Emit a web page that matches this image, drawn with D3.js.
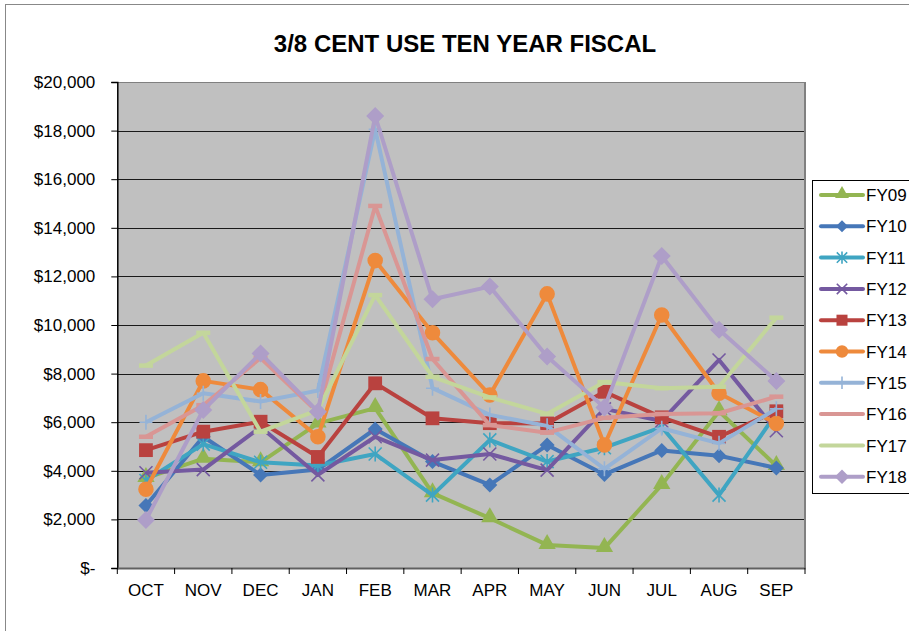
<!DOCTYPE html>
<html><head><meta charset="utf-8">
<script src="https://cdn.jsdelivr.net/npm/d3@7"></script>
<style>body{margin:0;background:#fff}svg{display:block}text{font-family:"Liberation Sans",Arial,sans-serif}</style>
</head><body><svg id="c" width="909" height="631"></svg>
<script>
const months = ["OCT","NOV","DEC","JAN","FEB","MAR","APR","MAY","JUN","JUL","AUG","SEP"];
const yTicks = [0,2000,4000,6000,8000,10000,12000,14000,16000,18000,20000];
const seriesNames = ["FY09","FY10","FY11","FY12","FY13","FY14","FY15","FY16","FY17","FY18"];
const FY09 = [3700,4500,4350,5950,6580,3080,2050,950,820,3420,6450,4200];
const FY10 = [2570,5400,3830,4050,5720,4380,3420,5060,3850,4840,4620,4120];
const FY11 = [3600,5100,4350,4220,4690,3000,5270,4380,4950,5800,3000,6350];
const FY12 = [3920,4050,5800,3830,5400,4440,4690,4030,6550,6050,8560,5650];
const FY13 = [4850,5610,6020,4570,7600,6160,5960,5950,7250,6200,5400,6450];
const FY14 = [3240,7700,7340,5400,12650,9680,7120,11280,5060,10410,7190,5950];
const FY15 = [6000,7190,6850,7300,18050,7400,6300,5850,4080,5750,5130,6550];
const FY16 = [5400,6700,8640,6400,14900,8600,5880,5570,6180,6340,6370,7050];
const FY17 = [8330,9680,5610,6500,11230,7870,7020,6340,7650,7400,7460,10300];
const FY18 = [1980,6500,8830,6430,18600,11060,11580,8700,6600,12840,9800,7700];
const seriesValues = [FY09,FY10,FY11,FY12,FY13,FY14,FY15,FY16,FY17,FY18];

const colors = ["#93B552","#4677B8","#3FA5C2","#7459A0","#B9423F","#EE8A3C","#95B3D7","#D99694","#C3D69B","#AE9EC8"];
const markers = ["triangle","diamond","asterisk","x","square","circle","plus","dash","dash","diamondL"];

const svg = d3.select("#c");
const L=117.3, R=805, T=82, B=568;
const x = d3.scaleBand().domain(months).range([L,R]).paddingInner(0).paddingOuter(0);
const cx = m => x(m)+x.bandwidth()/2;
const y = d3.scaleLinear().domain([0,20000]).range([B,T]);

// outer border
svg.append("rect").attr("x",5.5).attr("y",4.5).attr("width",1000).attr("height",700)
  .attr("fill","#fff").attr("stroke","#888").attr("stroke-width",1);

svg.append("text").attr("x",465).attr("y",52).attr("text-anchor","middle")
  .attr("font-size",24).attr("font-weight","bold").text("3/8 CENT USE TEN YEAR FISCAL");

// plot bg
svg.append("rect").attr("x",L).attr("y",T).attr("width",R-L).attr("height",B-T).attr("fill","#C0C0C0");
// gridlines
svg.append("g").selectAll("line").data(yTicks.filter(v=>v>0)).join("line")
  .attr("x1",L).attr("x2",R).attr("y1",d=>Math.round(y(d))+0.5).attr("y2",d=>Math.round(y(d))+0.5)
  .attr("stroke",d=>d===20000?"#808080":"#1a1a1a").attr("stroke-width",1);
svg.append("line").attr("x1",R).attr("x2",R).attr("y1",T).attr("y2",B).attr("stroke","#808080").attr("stroke-width",2);

// axes
const yAxis = d3.axisLeft(y).tickValues(yTicks).tickSize(6).tickPadding(16)
  .tickFormat(v => v===0 ? "$-" : "$"+d3.format(",")(v));
const gy = svg.append("g").attr("transform",`translate(${L},0)`).call(yAxis);
gy.selectAll("text").attr("font-size",17).attr("fill","#000");
gy.selectAll("line").attr("stroke","#000");
gy.select(".domain").attr("stroke","#000").attr("stroke-width",1.5);

const xAxis = d3.axisBottom(x).tickSize(0).tickPadding(16);
const gx = svg.append("g").attr("transform",`translate(0,${B})`).call(xAxis);
gx.selectAll("text").attr("font-size",17).attr("fill","#000");
gx.select(".domain").attr("stroke","#606060").attr("stroke-width",2);
svg.append("g").selectAll("line").data(d3.range(months.length+1)).join("line")
  .attr("x1",i=>L+i*x.bandwidth()).attr("x2",i=>L+i*x.bandwidth())
  .attr("y1",B).attr("y2",B+6).attr("stroke","#000");

function drawMarker(g, type, color, s){
  s = s||1;
  const sym = (t,a)=>g.append("path").attr("d",d3.symbol().type(t).size(a*s*s)()).attr("fill",color);
  const dia = r => g.append("path").attr("d",`M0,${-r}L${r},0L0,${r}L${-r},0Z`).attr("fill",color);
  if(type==="triangle") sym(d3.symbolTriangle,130).attr("transform","translate(0,-1)");
  else if(type==="diamond") dia(7.5*s);
  else if(type==="diamondL") dia(9*s);
  else if(type==="square") sym(d3.symbolSquare,190);
  else if(type==="circle") sym(d3.symbolCircle,190);
  else {
    const r=6.5*s;
    const p=d3.path();
    if(type==="x"||type==="asterisk"){p.moveTo(-r,-r);p.lineTo(r,r);p.moveTo(-r,r);p.lineTo(r,-r);}
    if(type==="asterisk"||type==="plus"){p.moveTo(0,-r-1);p.lineTo(0,r+1);}
    if(type==="plus"){p.moveTo(-r,0);p.lineTo(r,0);}
    if(type==="dash"){p.moveTo(-7*s,0);p.lineTo(7*s,0);}
    g.append("path").attr("d",p.toString()).attr("fill","none").attr("stroke",color)
      .attr("stroke-width",type==="dash"?4.5:1.6);
  }
}

const line = d3.line().x((d,i)=>cx(months[i])).y(d=>y(d));
seriesValues.forEach((vals,k)=>{
  const g = svg.append("g");
  g.append("path").datum(vals).attr("d",line).attr("fill","none")
    .attr("stroke",colors[k]).attr("stroke-width",4).attr("stroke-linejoin","round");
  vals.forEach((v,i)=>{
    const mg = g.append("g").attr("transform",`translate(${cx(months[i])},${y(v)})`);
    drawMarker(mg, markers[k], colors[k]);
  });
});

// legend
svg.append("rect").attr("x",812.5).attr("y",180.5).attr("width",200).attr("height",313)
  .attr("fill","#fff").attr("stroke","#000").attr("stroke-width",1);
seriesNames.forEach((n,k)=>{
  const ly = 195 + k*31.3;
  svg.append("line").attr("x1",821).attr("x2",863).attr("y1",ly).attr("y2",ly)
    .attr("stroke",colors[k]).attr("stroke-width",4).attr("stroke-linecap","round");
  if(markers[k]!=="dash"){
    const mg = svg.append("g").attr("transform",`translate(842,${ly})`);
    drawMarker(mg, markers[k], colors[k], 0.8);
  }
  svg.append("text").attr("x",866).attr("y",ly).attr("dy","0.36em").attr("font-size",17).text(n);
});
</script></body></html>
